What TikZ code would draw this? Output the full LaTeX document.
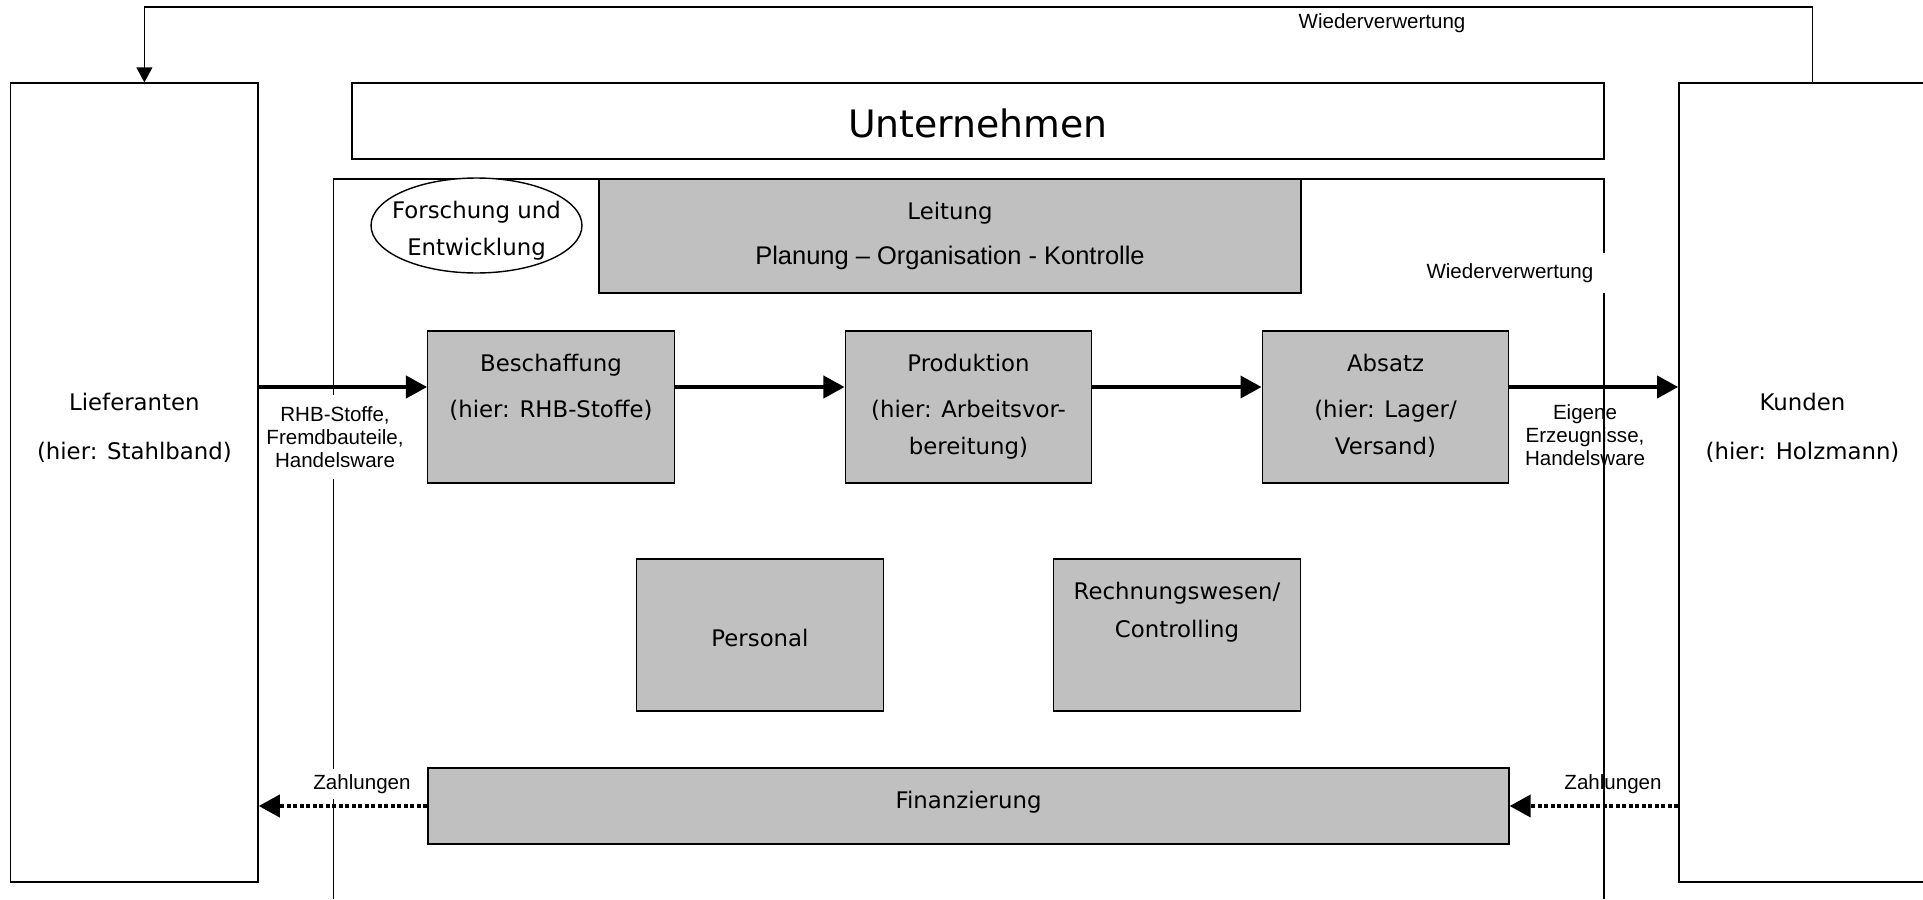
\documentclass[tikz,border=0pt]{standalone}
\usepackage{fontspec}
\usepackage{xcolor}
\usepackage{tikz}
\usetikzlibrary{positioning, arrows.meta, shapes.geometric}
\newfontfamily\comicfont{DejaVu Sans}
\newfontfamily\arialfont{Liberation Sans}
\definecolor{boxgray}{HTML}{C0C0C0}

\begin{document}
\begin{tikzpicture}[
    x=0.02cm, y=-0.02cm, % eine Einheit = ein Pixel der Vorlage
    line width=0.8pt,
    partner/.style={rectangle, draw=black, minimum width=4.946cm, minimum height=15.98cm},
    dept/.style={rectangle, draw=black, fill=boxgray, minimum width=4.93cm, minimum height=3.04cm},
    widebox/.style={rectangle, draw=black, minimum height=1.52cm},
    boxtext/.style={font=\comicfont\fontsize{13}{21.5}\selectfont, align=center, inner sep=0pt, anchor=north},
    flowlabel/.style={font=\arialfont\fontsize{11.7}{13.2}\selectfont, align=center, inner sep=0pt},
    flow/.style={draw, line width=2.3pt, -{Triangle[length=12pt, width=12.5pt]}},
    payment/.style={draw, line width=2.3pt, dash pattern=on 2.3pt off 1.4pt, -{Triangle[length=12pt, width=12.5pt]}},
    feedback/.style={draw, line width=0.8pt, -{Triangle[length=8.5pt, width=9pt]}}
]
\useasboundingbox (0,0) rectangle (1923,899);

% Rahmen des Unternehmens
\draw (333.5,899) -- (333.5,179) -- (1604,179) -- (1604,899);

% Beschriftungen mit weissem Hintergrund
\node[flowlabel, fill=white, inner xsep=0.2cm, inner ysep=0.22cm] (rhblabel) at (335,437) {RHB-Stoffe,\\Fremdbauteile,\\Handelsware};
\node[flowlabel] (eigenlabel) at (1585,435) {Eigene\\Erzeugnisse,\\Handelsware};
\node[flowlabel, fill=white, inner sep=0.1cm] (zahlleft) at (362,784) {Zahlungen};
\node[flowlabel] (zahlright) at (1613,784) {Zahlungen};
\node[flowlabel, fill=white, anchor=east, inner xsep=0.24cm, inner ysep=0.2cm] (recycleright) at (1606,273) {Wiederverwertung};
\node[flowlabel] (recycletop) at (1382,23) {Wiederverwertung};

% Partner
\node[partner] (liefer) at (134.4,482.5) {};
\node[partner] (kunden) at (1802.5,482.5) {};
\node[boxtext, below=6.2cm of liefer.north] (liefertext) {Lieferanten\\[6.3pt](hier: Stahlband)};
\node[boxtext, below=6.2cm of kunden.north] (kundentext) {Kunden\\[6.3pt](hier: Holzmann)};

% Unternehmen und Leitung
\node[widebox, minimum width=25.04cm] (untern) at (978,121) {};
\node[boxtext, anchor=center, font=\comicfont\fontsize{21.5}{26}\selectfont] (unterntext) at ([yshift=-0.5mm]untern.center) {Unternehmen};
\node[dept, minimum width=14.04cm, minimum height=2.28cm] (leitung) at (950,236) {};
\node[boxtext, below=4.6mm of leitung.north] (leittext) {Leitung\\[4pt]{\arialfont\fontsize{14.5}{20}\selectfont Planung – Organisation - Kontrolle}};
\node[ellipse, draw=black, fill=white, minimum width=4.22cm, minimum height=1.9cm, inner sep=0pt] (fue) at (476.5,225.5) {};
\node[boxtext, anchor=center, font=\comicfont\fontsize{13}{21}\selectfont] (fuetext) at ([yshift=-1mm]fue.center) {Forschung und\\Entwicklung};

% Funktionsbereiche
\node[dept] (besch) at (551,407) {};
\node[dept] (prod) at (968.5,407) {};
\node[dept] (absatz) at (1385.5,407) {};
\node[dept] (personal) at (760,635) {};
\node[dept] (rechnung) at (1177,635) {};
\node[dept, minimum width=21.62cm, minimum height=1.52cm] (finanz) at (968.5,806) {};

\node[boxtext, below=4.6mm of besch.north] (beschtext) {Beschaffung\\[4.5pt](hier: RHB-Stoffe)};
\node[boxtext, below=4.6mm of prod.north] (prodtext) {Produktion\\[4.5pt](hier: Arbeitsvor-\\bereitung)};
\node[boxtext, below=4.6mm of absatz.north] (absatztext) {Absatz\\[4.5pt](hier: Lager/\\Versand)};
\node[boxtext, below=1.4cm of personal.north] (personaltext) {Personal};
\node[boxtext, below=4.6mm of rechnung.north] (rechnungtext) {Rechnungswesen/\\Controlling};
\node[boxtext, below=4.6mm of finanz.north] (finanztext) {Finanzierung};

% Gueterstrom
\coordinate (flowy) at (0,387);
\draw[flow] (liefer.east |- flowy) -- (besch.west |- flowy);
\draw[flow] (besch.east |- flowy) -- (prod.west |- flowy);
\draw[flow] (prod.east |- flowy) -- (absatz.west |- flowy);
\draw[flow] (absatz.east |- flowy) -- (kunden.west |- flowy);

% Geldstrom
\draw[payment] (finanz.west) -- (liefer.east |- finanz.west);
\draw[payment] (kunden.west |- finanz.east) -- (finanz.east);

% Wiederverwertung
\coordinate (backtop) at (0,7);
\coordinate (backR) at ([xshift=2mm]kunden.north);
\coordinate (backL) at ([xshift=2mm]liefer.north);
\draw[feedback] (backR) -- (backR |- backtop) -| (backL);

\end{tikzpicture}
\end{document}
